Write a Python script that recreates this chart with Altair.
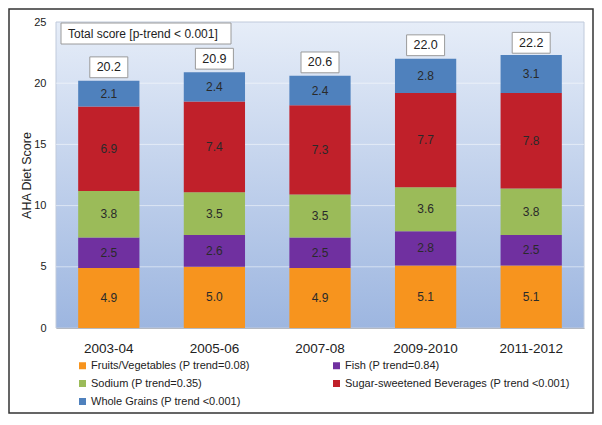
import altair as alt
import pandas as pd

periods = ["2003-04", "2005-06", "2007-08", "2009-2010", "2011-2012"]
components = [
    "Fruits/Vegetables (P trend=0.08)",
    "Fish (P trend=0.84)",
    "Sodium (P trend=0.35)",
    "Sugar-sweetened Beverages (P trend <0.001)",
    "Whole Grains (P trend <0.001)",
]
colors = ["#F7941E", "#7030A0", "#9BBB59", "#C0202A", "#4F81BD"]
fruits_veg = [4.9, 5.0, 4.9, 5.1, 5.1]
fish = [2.5, 2.6, 2.5, 2.8, 2.5]
sodium = [3.8, 3.5, 3.5, 3.6, 3.8]
ssb = [6.9, 7.4, 7.3, 7.7, 7.8]
whole_grains = [2.1, 2.4, 2.4, 2.8, 3.1]
totals = [20.2, 20.9, 20.6, 22.0, 22.2]
grid_values = [5, 10, 15, 20]
y_ticks = [0, 5, 10, 15, 20, 25]
note_text = "Total score [p-trend < 0.001]"

series = [fruits_veg, fish, sodium, ssb, whole_grains]
rows = []
for ci, (comp, vals) in enumerate(zip(components, series)):
    for pi, p in enumerate(periods):
        rows.append({"period": p, "component": comp, "idx": ci, "value": vals[pi]})
df = pd.DataFrame(rows)
tot_df = pd.DataFrame({"period": periods, "total": totals})
one = pd.DataFrame({"a": [0]})
grid_df = pd.DataFrame({"g": grid_values})

# Vega fills legend columns top-to-bottom; reorder so rows read left-to-right
legend_order = [0, 2, 4, 1, 3]
legend_domain = [components[i] for i in legend_order]
legend_range = [colors[i] for i in legend_order]

W, H = 528, 306
FONT = "Liberation Sans"

xenc = alt.X(
    "period:N",
    sort=periods,
    title=None,
    scale=alt.Scale(paddingInner=0.42, paddingOuter=0.21),
    axis=alt.Axis(labelAngle=0, labelFontSize=13.5, labelColor="#222", ticks=False,
                  labelPadding=13, domain=True, domainColor="#a8a8a8", labelFont=FONT),
)
yscale = alt.Scale(domain=[0, 25], nice=False)

bg = alt.Chart(one).mark_rect(
    fill=alt.LinearGradient(
        gradient="linear",
        stops=[alt.GradientStop(offset=0, color="#e6edf8"),
               alt.GradientStop(offset=1, color="#9db6e0")],
        x1=0, x2=0, y1=0, y2=1,
    ),
    stroke="#c0cadb", strokeWidth=1,
).encode(x=alt.value(0), x2=alt.value(W), y=alt.value(0), y2=alt.value(H))

grid = alt.Chart(grid_df).mark_rule(color="#ffffff", opacity=0.5, strokeWidth=1).encode(
    y=alt.Y("g:Q", scale=yscale), x=alt.value(0), x2=alt.value(W)
)

base = alt.Chart(df).transform_stack(
    stack="value", groupby=["period"], sort=[alt.SortField("idx", order="ascending")],
    as_=["v0", "v1"],
).transform_calculate(mid="(datum.v0 + datum.v1) / 2")

bars = base.mark_bar().encode(
    x=xenc,
    y=alt.Y("v0:Q", scale=yscale, title="AHA Diet Score",
            axis=alt.Axis(values=y_ticks, grid=False, ticks=False, domain=False,
                          labelFontSize=11, labelColor="#222", labelPadding=10,
                          titleFontSize=12.5, titleFontWeight="normal", titleColor="#222",
                          titlePadding=0, labelFont=FONT, titleFont=FONT)),
    y2="v1:Q",
    color=alt.Color(
        "component:N",
        scale=alt.Scale(domain=legend_domain, range=legend_range),
        legend=alt.Legend(
            title=None, orient="none", legendX=21, legendY=338, columns=2,
            columnPadding=81, rowPadding=6, padding=0, symbolType="square",
            symbolSize=49, symbolStrokeWidth=0, labelFontSize=11, labelColor="#222",
            labelFont=FONT, labelOffset=3, labelLimit=400,
        ),
    ),
)

seg_text = base.mark_text(fontSize=12, color="#2a2a2a", font=FONT).encode(
    x=alt.X("period:N", sort=periods),
    y=alt.Y("mid:Q", scale=yscale),
    text=alt.Text("value:Q", format=".1f"),
)

tot_base = alt.Chart(tot_df).transform_calculate(
    lo="datum.total + 0.25", hi="datum.total + 1.95", tmid="datum.total + 1.1"
)
tot_box = tot_base.mark_bar(width=38, fill="white", stroke="#9a9a9a", strokeWidth=1).encode(
    x=alt.X("period:N", sort=periods), y=alt.Y("lo:Q", scale=yscale), y2="hi:Q"
)
tot_text = tot_base.mark_text(fontSize=12.5, color="#222", font=FONT).encode(
    x=alt.X("period:N", sort=periods), y=alt.Y("tmid:Q", scale=yscale),
    text=alt.Text("total:Q", format=".1f"),
)

note_box = alt.Chart(one).mark_rect(fill="white", stroke="#9a9a9a", strokeWidth=1).encode(
    x=alt.value(5), x2=alt.value(175), y=alt.value(1), y2=alt.value(22)
)
note = alt.Chart(one).mark_text(align="left", baseline="middle", fontSize=12,
                                color="#222", font=FONT).encode(
    x=alt.value(12), y=alt.value(11.5), text=alt.value(note_text)
)

border = alt.Chart(one).mark_rect(fill=None, stroke="#333333", strokeWidth=1.5).encode(
    x=alt.value(-47), x2=alt.value(537), y=alt.value(-13), y2=alt.value(391)
)

chart = alt.layer(
    bg, grid, bars, seg_text, tot_box, tot_text, note_box, note, border
).properties(
    width=W, height=H,
    padding={"left": 48, "top": 14, "right": 10, "bottom": 86},
    autosize=alt.AutoSizeParams(type="none"),
    background="white",
).configure_view(stroke=None)

chart.save("out.html", embed_options={"renderer": "svg", "actions": False})
